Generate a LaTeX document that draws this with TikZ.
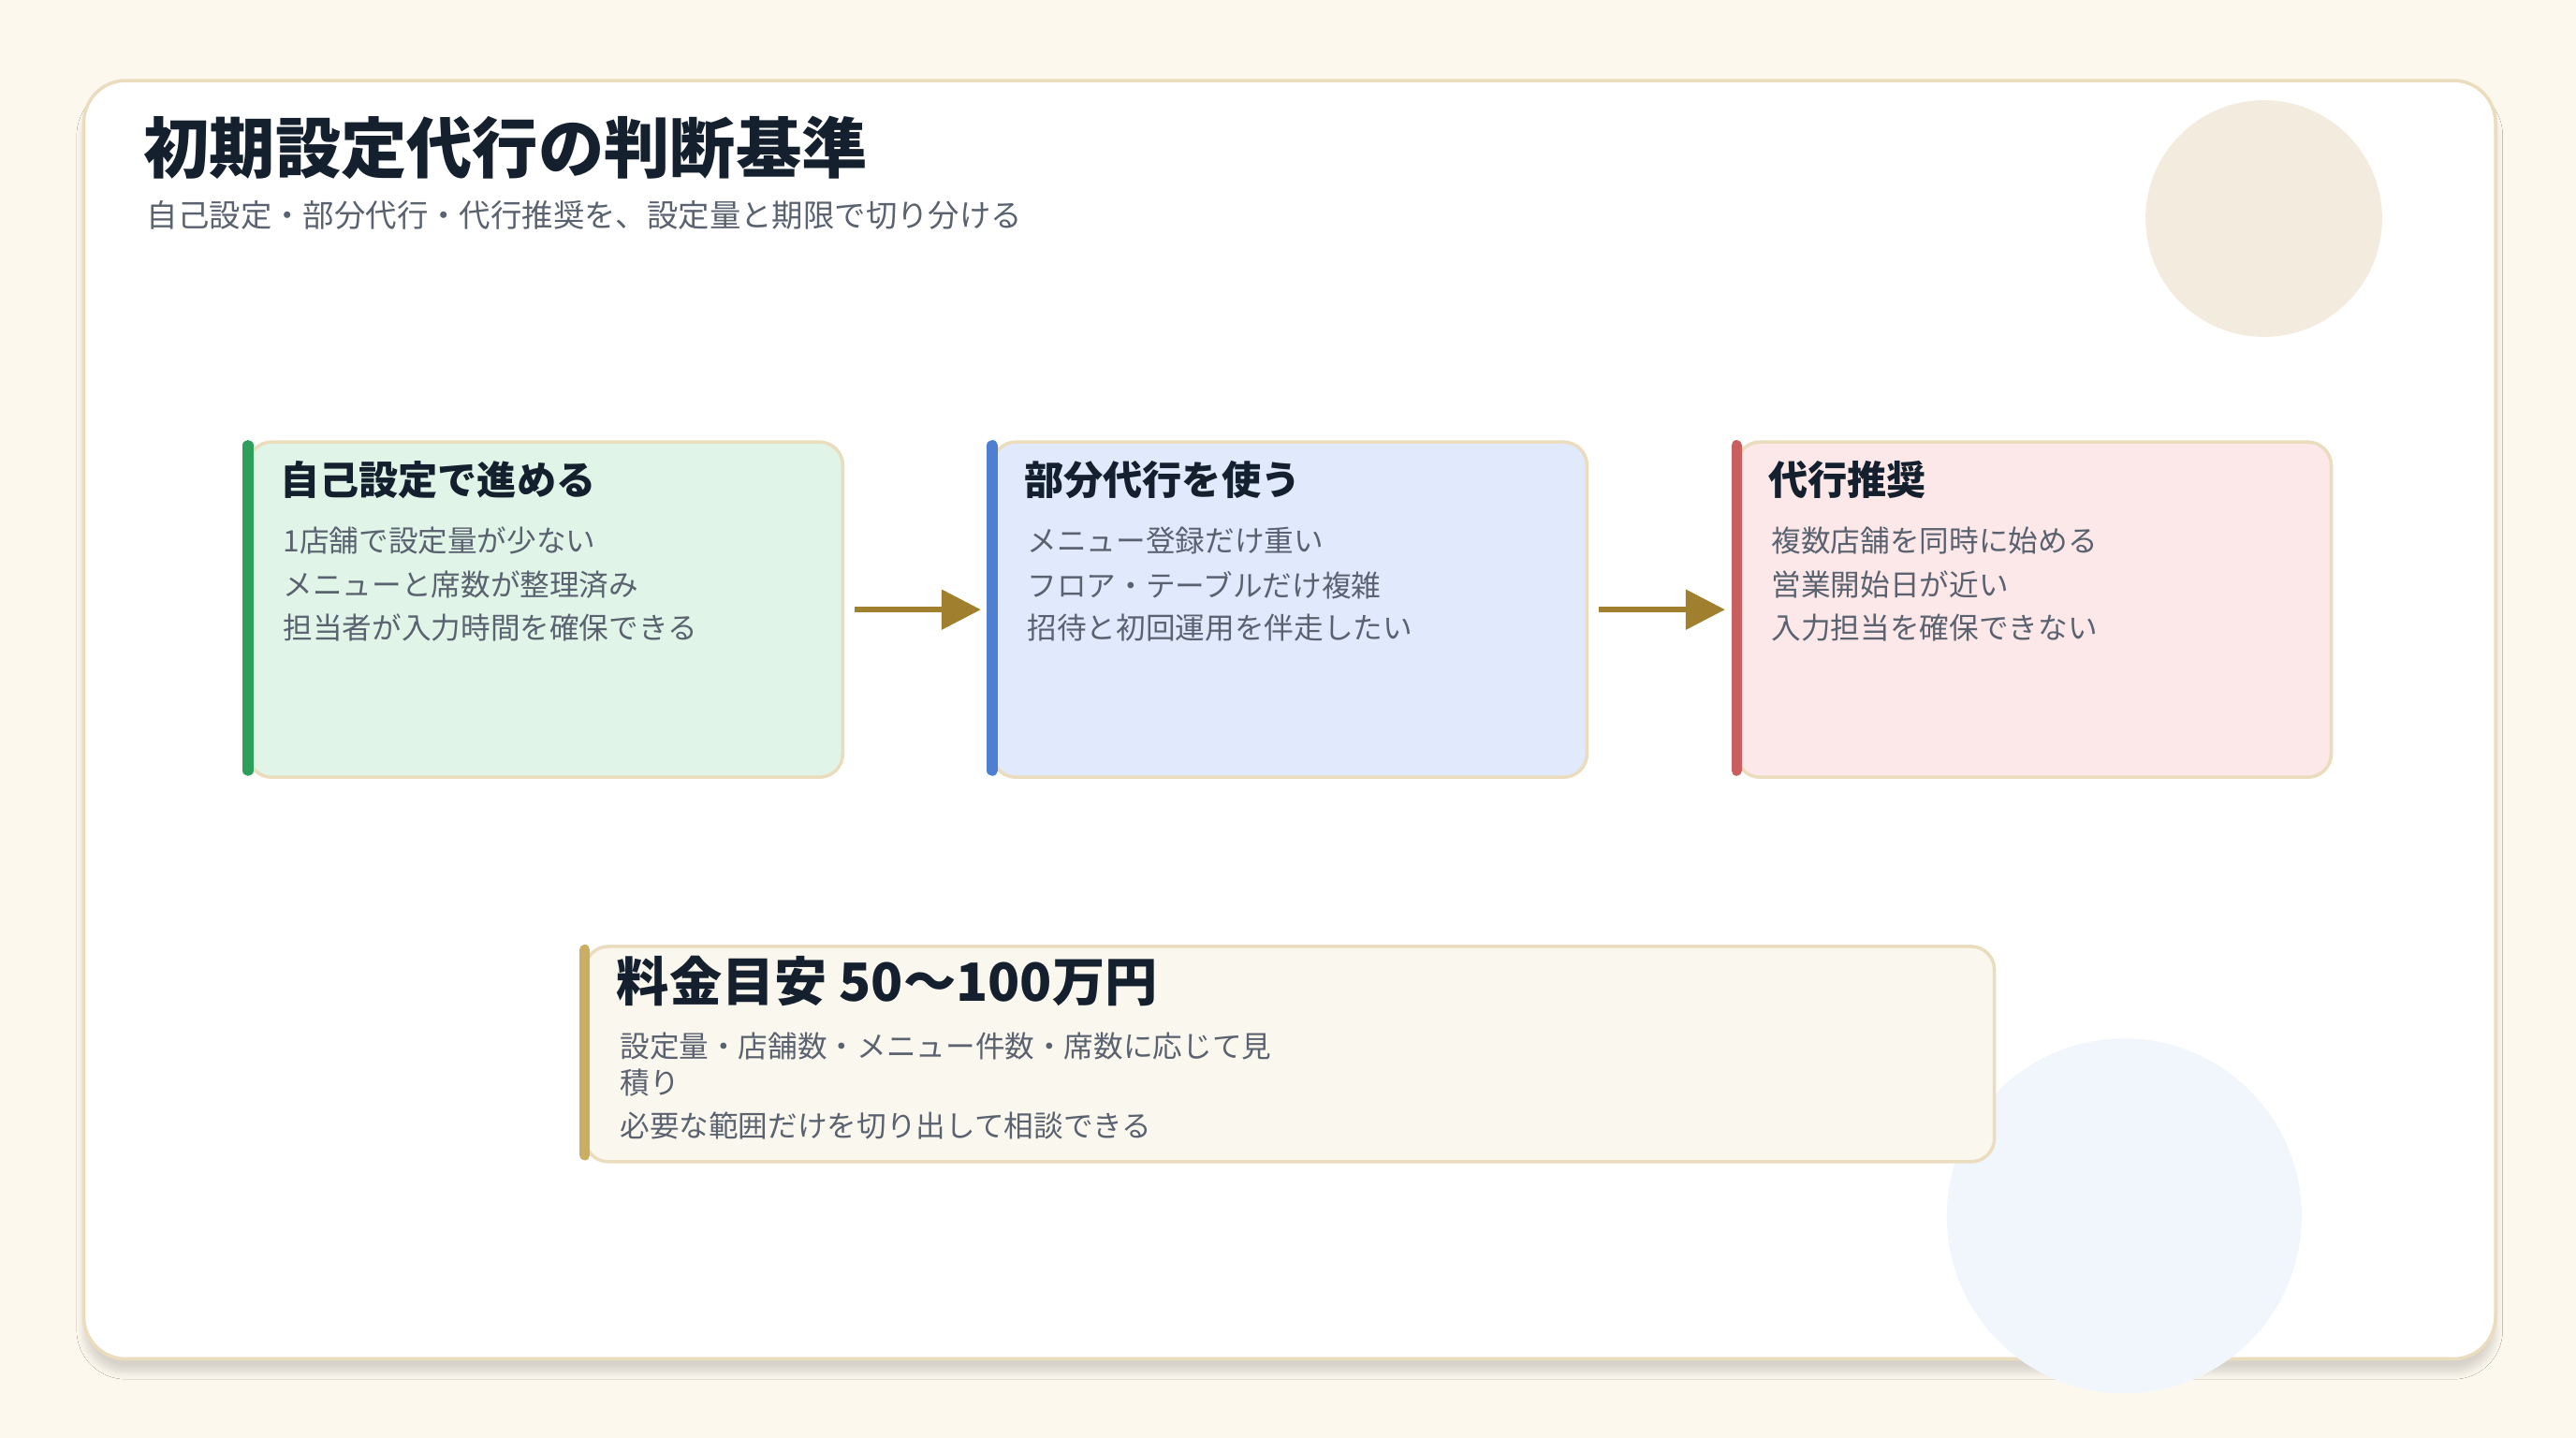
\documentclass[tikz,border=0pt]{standalone}
\usepackage{fontspec}
\setmainfont{Noto Sans CJK JP}
\usetikzlibrary{arrows.meta,shadows.blur}
\definecolor{bg}{HTML}{FDF8EE}
\definecolor{edge}{HTML}{EADCBC}
\definecolor{ink}{HTML}{15202E}
\definecolor{sub}{HTML}{5A6270}
\definecolor{arr}{HTML}{A07F2E}
\tikzset{
 card/.style={draw=edge,line width=1pt,rounded corners=0.25cm,minimum width=362*0.01755cm,minimum height=204*0.01755cm,anchor=north west,inner sep=0},
 bar/.style={line width=3.2pt,line cap=round},
 ctitle/.style={anchor=west,font=\bfseries\fontsize{12}{14}\selectfont,text=ink,inner sep=0},
 cline/.style={anchor=west,font=\fontsize{9}{11}\selectfont,text=sub,inner sep=0},
 flow/.style={draw=arr,line width=1.6pt,-{Triangle[length=0.42cm,width=0.42cm]}}
}
\begin{document}
\begin{tikzpicture}[x=0.01755cm,y=-0.01755cm]
\useasboundingbox (0,0) rectangle (1568,875);
\fill[bg] (0,0) rectangle (1568,875);
\node[draw=edge,fill=white,line width=1pt,rounded corners=0.45cm,minimum width=1468*0.01755cm,minimum height=778*0.01755cm,anchor=north west,blur shadow={shadow blur steps=8,shadow xshift=0pt,shadow yshift=-4pt,shadow opacity=15}] (main) at (50,48) {};
\fill[color={rgb,255:red,243;green,235;blue,221}] (1378,133) circle (72);
\fill[color={rgb,255:red,241;green,246;blue,253}] (1293,740) circle (108);
\node[anchor=west,font=\bfseries\fontsize{20}{24}\selectfont,text=ink,inner sep=0] (title) at (87,90) {初期設定代行の判断基準};
\node[anchor=west,font=\fontsize{9.5}{11}\selectfont,text=sub,inner sep=0] (subt) at (89,131) {自己設定・部分代行・代行推奨を、設定量と期限で切り分ける};
% cards
\node[card,fill={rgb,255:red,224;green,245;blue,232}] (c1) at (150,268) {};
\node[card,fill={rgb,255:red,225;green,233;blue,252}] (c2) at (603,268) {};
\node[card,fill={rgb,255:red,252;green,232;blue,232}] (c3) at (1056,268) {};
\draw[bar,color={rgb,255:red,46;green,158;blue,91}] (151,271) -- (151,469);
\draw[bar,color={rgb,255:red,79;green,127;blue,209}] (604,271) -- (604,469);
\draw[bar,color={rgb,255:red,201;green,95;blue,95}] (1057,271) -- (1057,469);
\node[ctitle] (t1) at (170,292) {自己設定で進める};
\node[cline] (a1) at (172,329) {1店舗で設定量が少ない};
\node[cline] (a2) at (172,356) {メニューと席数が整理済み};
\node[cline] (a3) at (172,382) {担当者が入力時間を確保できる};
\node[ctitle] (t2) at (623,292) {部分代行を使う};
\node[cline] (b1) at (625,329) {メニュー登録だけ重い};
\node[cline] (b2) at (625,356) {フロア・テーブルだけ複雑};
\node[cline] (b3) at (625,382) {招待と初回運用を伴走したい};
\node[ctitle] (t3) at (1076,292) {代行推奨};
\node[cline] (d1) at (1078,329) {複数店舗を同時に始める};
\node[cline] (d2) at (1078,356) {営業開始日が近い};
\node[cline] (d3) at (1078,382) {入力担当を確保できない};
\draw[flow] ([xshift=3]c1.east) -- ([xshift=-3]c2.west);
\draw[flow] ([xshift=3]c2.east) -- ([xshift=-3]c3.west);
% fee card
\node[card,fill={rgb,255:red,250;green,247;blue,238},minimum width=858*0.01755cm,minimum height=131*0.01755cm] (fee) at (355,575) {};
\draw[bar,color={rgb,255:red,201;green,174;blue,99}] (356,578) -- (356,703);
\node[anchor=west,font=\bfseries\fontsize{16}{19}\selectfont,text=ink,inner sep=0] (ft) at (375,597) {料金目安 50〜100万円};
\node[cline] (f1) at (377,637) {設定量・店舗数・メニュー件数・席数に応じて見};
\node[cline] (f2) at (377,659) {積り};
\node[cline] (f3) at (377,685) {必要な範囲だけを切り出して相談できる};
\end{tikzpicture}
\end{document}
